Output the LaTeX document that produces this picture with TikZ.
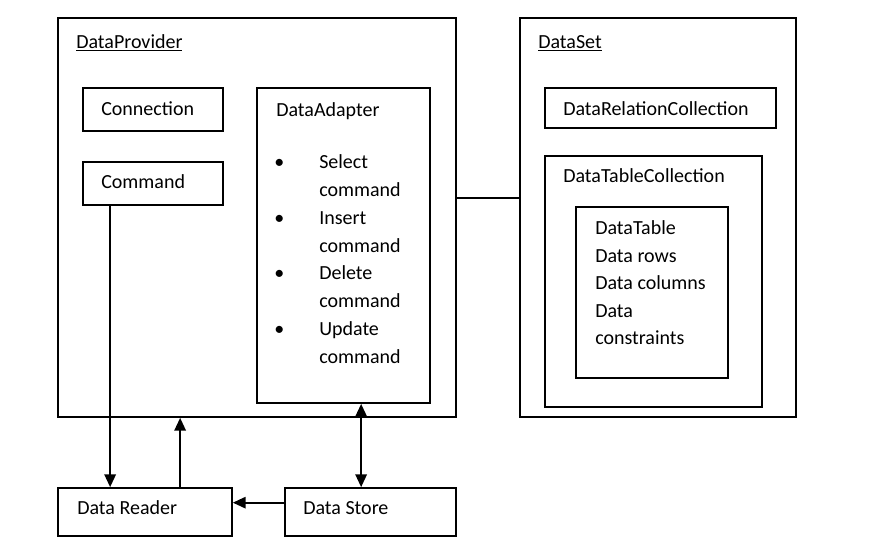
\documentclass[tikz,border=0pt]{standalone}
\usepackage{fontspec}
\setmainfont{Carlito}
\usetikzlibrary{fit,arrows.meta}
\begin{document}
\begin{tikzpicture}[x=0.75pt,y=-0.75pt,
  box/.style={draw, line width=1.3pt, inner sep=0pt},
  lbl/.style={anchor=base west, inner sep=0pt, font=\fontsize{15pt}{18pt}\selectfont},
  tip/.tip={Triangle[length=9.5pt,width=8.5pt]},
  arr/.style={line width=1.3pt, -tip},
  darr/.style={line width=1.3pt, tip-tip},
  conn/.style={line width=1.3pt}]
\useasboundingbox (0,0) rectangle (878,550);
% DataProvider
\node[box, fit={(58,18) (456,417)}] (dp) {};
\node[lbl] (dpt) at (76,48) {\underline{DataProvider}};
\node[box, fit={(83,88) (223,131)}] (conn) {};
\node[lbl] (connt) at (101,115) {Connection};
\node[box, fit={(83,162) (223,205)}] (cmd) {};
\node[lbl] (cmdt) at (101,188) {Command};
\node[box, fit={(257,88) (430,403)}] (ad) {};
\node[lbl] (adt) at (276,116) {DataAdapter};
\node[lbl] (b1) at (274,168) {•};
\node[lbl] (s1) at (319,168) {Select};
\node[lbl] (s2) at (319,196) {command};
\node[lbl] (b2) at (274,224) {•};
\node[lbl] (i1) at (319,224) {Insert};
\node[lbl] (i2) at (319,252) {command};
\node[lbl] (b3) at (274,279) {•};
\node[lbl] (d1) at (319,279) {Delete};
\node[lbl] (d2) at (319,307) {command};
\node[lbl] (b4) at (274,335) {•};
\node[lbl] (u1) at (319,335) {Update};
\node[lbl] (u2) at (319,363) {command};
% DataSet
\node[box, fit={(520,18) (796,417)}] (ds) {};
\node[lbl] (dst) at (538,48) {\underline{DataSet}};
\node[box, fit={(545,88) (776,128)}] (drc) {};
\node[lbl] (drct) at (563,115) {DataRelationCollection};
\node[box, fit={(545,156) (762,407)}] (dtc) {};
\node[lbl] (dtct) at (563,182) {DataTableCollection};
\node[box, fit={(576,207) (728,378)}] (dt) {};
\node[lbl] (t1) at (595,234) {DataTable};
\node[lbl] (t2) at (595,262) {Data rows};
\node[lbl] (t3) at (595,289) {Data columns};
\node[lbl] (t4) at (595,317) {Data};
\node[lbl] (t5) at (595,344) {constraints};
% bottom boxes
\node[box, fit={(58,488) (232,536)}] (rd) {};
\node[lbl] (rdt) at (77,514) {Data Reader};
\node[box, fit={(285,488) (456,536)}] (st) {};
\node[lbl] (stt) at (303,514) {Data Store};
% connectors
\draw[conn] ([yshift=14.6pt]dp.east) coordinate (l1) -- (l1 -| ds.west);
\path ([xshift=21pt]cmd.south west) coordinate (c1);
\draw[arr] (c1) -- (c1 |- rd.north);
\path ([xshift=92.25pt]rd.north west) coordinate (c2);
\draw[arr] (c2) -- (c2 |- dp.south);
\path ([xshift=78.75pt]ad.south west) coordinate (c3);
\draw[darr] (c3) -- (c3 |- st.north);
\path ([yshift=7pt]st.west) coordinate (c4);
\draw[arr] (c4) -- (c4 -| rd.east);
\end{tikzpicture}
\end{document}
